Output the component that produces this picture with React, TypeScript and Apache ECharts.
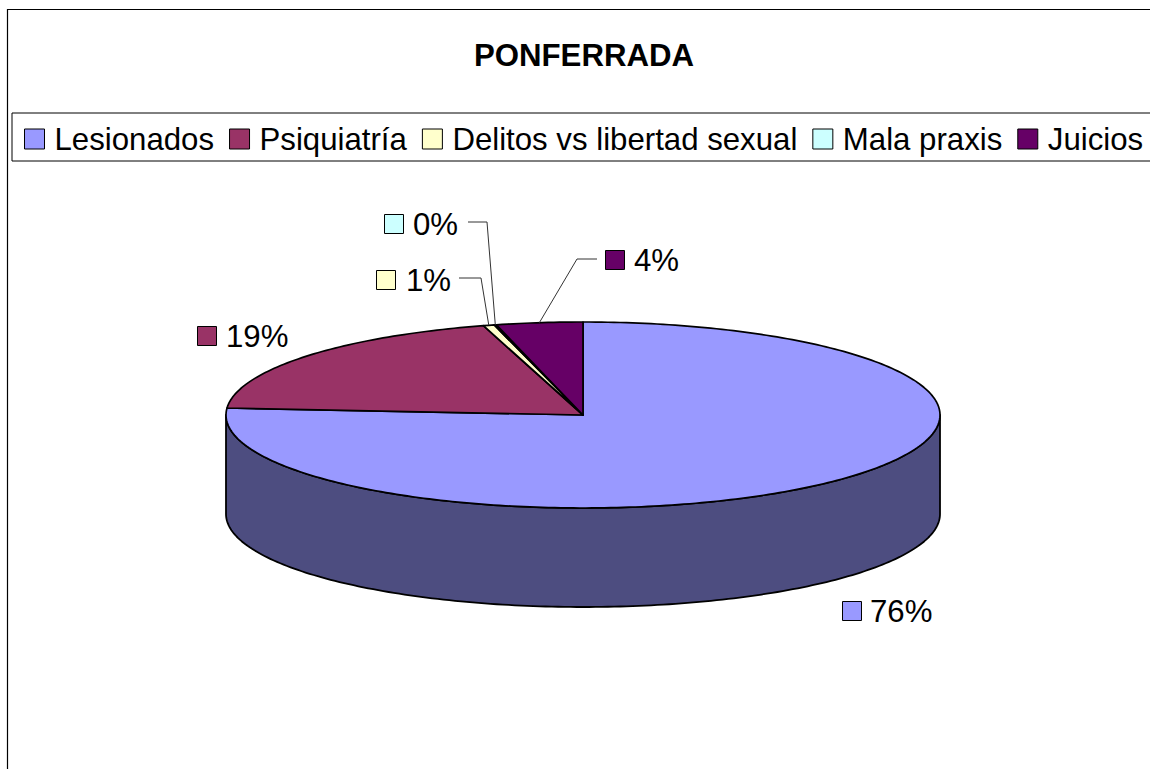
import React, { useEffect, useRef } from "react";
import * as echarts from "echarts";

const title = "PONFERRADA";
const categories = ["Lesionados", "Psiquiatría", "Delitos vs libertad sexual", "Mala praxis", "Juicios"];
const shares = [76.2, 19.3, 0.5, 0.1, 3.9];
const colors = ["#9999FF", "#993366", "#FFFFCC", "#CCFFFF", "#660066"];
const wallColor = "#4D4D80";

const FONT = '"Liberation Sans", Arial, sans-serif';
const FS = 31.2;
const CX = 583, CY = 415, RX = 357, RY = 93, DEPTH = 99;

// Label placement: marker left/top, text left, optional leader elbow (label side, elbow).
const labelLayout: any[] = [
  { mx: 842, my: 601, tx: 870 },
  { mx: 197, my: 326, tx: 226 },
  { mx: 376, my: 270, tx: 406, leader: [[459, 278], [481, 278]] },
  { mx: 384, my: 214, tx: 413, leader: [[468, 222], [487, 222]] },
  { mx: 605, my: 250, tx: 634, leader: [[597, 259], [577, 259]] },
];

const total = shares.reduce((a, b) => a + b, 0);
const pt = (deg: number, dy = 0): number[] => {
  const r = (deg * Math.PI) / 180;
  return [CX + RX * Math.sin(r), CY - RY * Math.cos(r) + dy];
};
const arc = (a: number, b: number, dy = 0): number[][] => {
  const out: number[][] = [];
  const n = Math.max(2, Math.ceil(Math.abs(b - a)));
  for (let i = 0; i <= n; i++) out.push(pt(a + ((b - a) * i) / n, dy));
  return out;
};

const makeRenderItem = (index: number) => (_params: any, api: any) => {
  const value = api.value(0);
  const startShare = shares.slice(0, index).reduce((a, b) => a + b, 0);
  const a0 = (startShare / total) * 360;
  const a1 = a0 + (value / total) * 360;
  const color = api.visual("color");
  const children: any[] = [];
  const lo = Math.max(a0, 90), hi = Math.min(a1, 270);
  if (hi > lo) {
    children.push({
      type: "polygon",
      shape: { points: [...arc(lo, hi), ...arc(hi, lo, DEPTH)] },
      style: { fill: wallColor, stroke: "#000", lineWidth: 1.8, lineJoin: "round" },
    });
  }
  children.push({
    type: "polygon",
    shape: { points: [[CX, CY], ...arc(a0, a1)] },
    style: { fill: color, stroke: "#000", lineWidth: 1.7, lineJoin: "round" },
  });
  const l = labelLayout[index];
  if (l.leader) {
    children.push({
      type: "polyline",
      shape: { points: [...l.leader, pt((a0 + a1) / 2)] },
      style: { fill: "none", stroke: "#333", lineWidth: 1 },
      z2: 20,
    });
  }
  children.push({
    type: "rect",
    shape: { x: l.mx + 0.5, y: l.my + 0.5, width: 19, height: 19 },
    style: { fill: color, stroke: "#000", lineWidth: 1 },
    z2: 20,
  });
  children.push({
    type: "text",
    style: {
      x: l.tx, y: l.my + 10, text: `${Math.round((value / total) * 100)}%`,
      fill: "#000", font: `${FS}px ${FONT}`, textAlign: "left", textVerticalAlign: "middle",
    },
    z2: 20,
  });
  return { type: "group", children };
};

export default function App() {
  const ref = useRef<HTMLDivElement>(null);
  useEffect(() => {
    const chart = echarts.init(ref.current!, undefined, { renderer: "svg" });
    chart.setOption({
      animation: false,
      backgroundColor: "#fff",
      title: {
        text: title,
        left: 579,
        top: 35,
        textAlign: "center",
        textStyle: { fontFamily: FONT, fontSize: FS, fontWeight: "bold", color: "#000" },
      },
      legend: {
        data: categories,
        left: 12,
        top: 113,
        width: 1200,
        orient: "horizontal",
        icon: "rect",
        itemWidth: 20,
        itemHeight: 20,
        itemGap: 15,
        padding: [8, 40, 4, 12],
        borderColor: "#000",
        borderWidth: 1,
        selectedMode: false,
        itemStyle: { borderColor: "#000", borderWidth: 1 },
        textStyle: { fontFamily: FONT, fontSize: FS, color: "#000", lineHeight: 36, padding: [0, 0, 0, 5] },
      },
      graphic: [
        {
          type: "rect",
          shape: { x: 7.5, y: 9.5, width: 1300, height: 900 },
          style: { fill: "none", stroke: "#000", lineWidth: 1.2 },
          silent: true,
          z: -1,
        },
      ],
      series: categories.map((name, i) => ({
        type: "custom",
        name,
        coordinateSystem: "none",
        silent: true,
        itemStyle: { color: colors[i] },
        data: [[shares[i]]],
        renderItem: makeRenderItem(i),
      })),
    });
    return () => chart.dispose();
  }, []);
  return <div ref={ref} style={{ position: "absolute", left: 0, top: 0, width: 1150, height: 769 }} />;
}
